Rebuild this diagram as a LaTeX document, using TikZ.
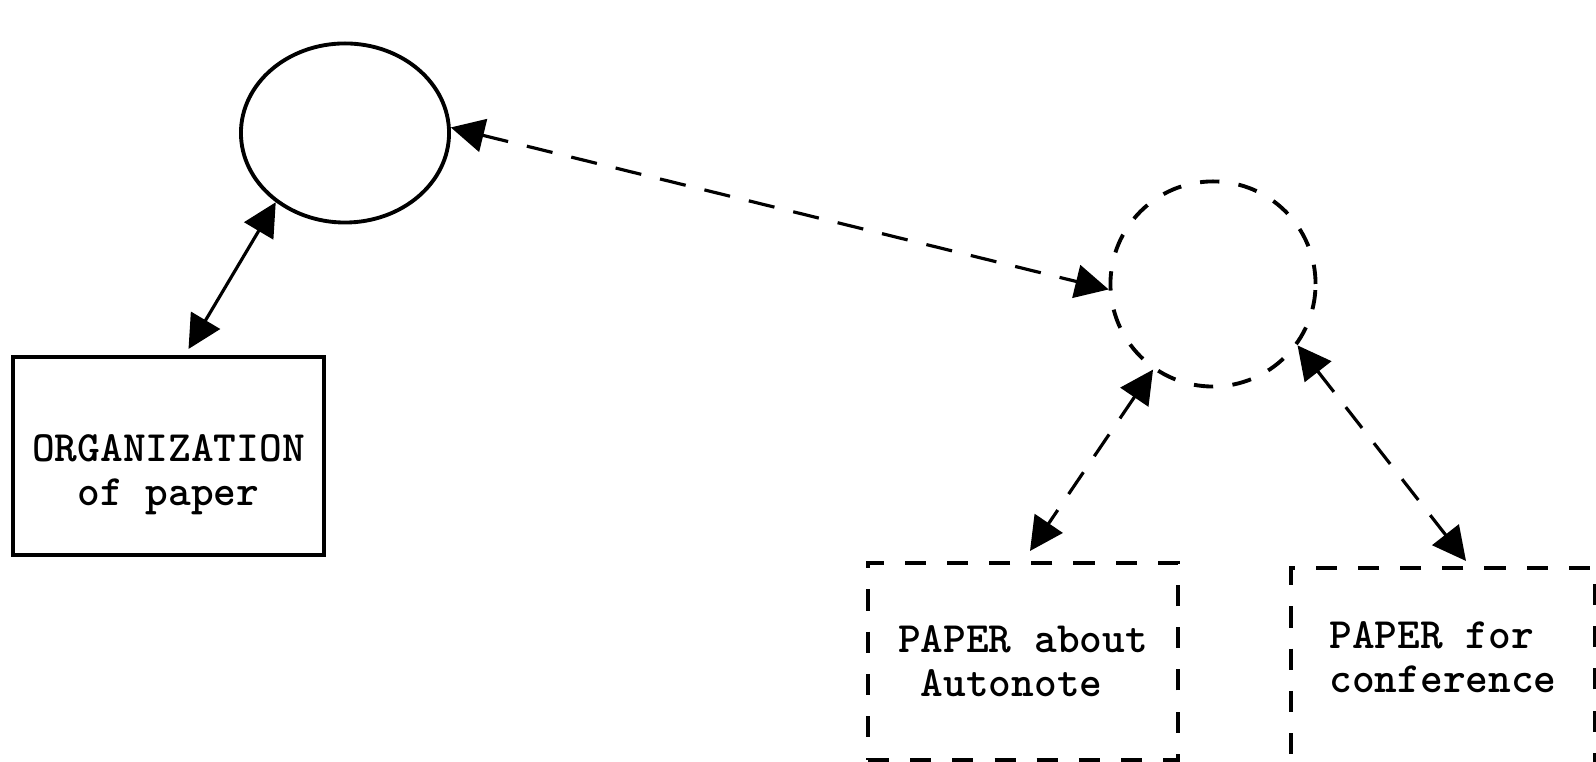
\documentclass[tikz,border=0pt]{standalone}
\usepackage{tikz}
\usetikzlibrary{arrows.meta, shapes.geometric, calc}

\begin{document}
\begin{tikzpicture}[x=0.01cm, y=-0.01cm, >={Triangle[length=9.5pt, width=9.5pt]},
    box/.style={draw, line width=1.1pt, inner sep=0pt, align=left, font=\ttfamily\bfseries\fontsize{12.3}{12.5}\selectfont},
    dbox/.style={box, dash pattern=on 6pt off 6pt},
    link/.style={line width=0.9pt, <->},
    dlink/.style={link, dash pattern=on 7.5pt off 5.5pt}]
      \useasboundingbox (0, 0) rectangle (1596, 762);

      % ENTITIES
      \node[ellipse, draw, line width=1.1pt, minimum width=2.08cm, minimum height=1.79cm] (org) at (345, 133) {};
      \node[circle, draw, line width=1.1pt, dash pattern=on 5.5pt off 5.5pt, minimum size=2.05cm] (paper) at (1213, 284) {};

      % Organization box
      \node[box, minimum width=3.11cm, minimum height=1.98cm, text height=1.08cm] (orgbox) at (168.5, 456) {ORGANIZATION\\\hphantom{OO}of paper};

      % Paper boxes
      \node[dbox, minimum width=3.1cm, minimum height=1.97cm] (autonote) at (1023, 661.5) {PAPER about\\\hphantom{P}Autonote};
      \node[dbox, minimum width=3.04cm, minimum height=1.97cm, text height=0.52cm] (conf) at (1443, 666.5) {PAPER for\\conference};

      % LINKS
      \draw[link] ([xshift=0.2cm, yshift=0.06cm]orgbox.north) -- (org.225);
      \draw[dlink] (org.3) -- (paper.183);
      \draw[dlink] (paper.235) -- ([xshift=0.07cm, yshift=0.1cm]autonote.north);
      \draw[dlink] (paper.324) -- ([xshift=0.23cm, yshift=0.05cm]conf.north);
\end{tikzpicture}
\end{document}
